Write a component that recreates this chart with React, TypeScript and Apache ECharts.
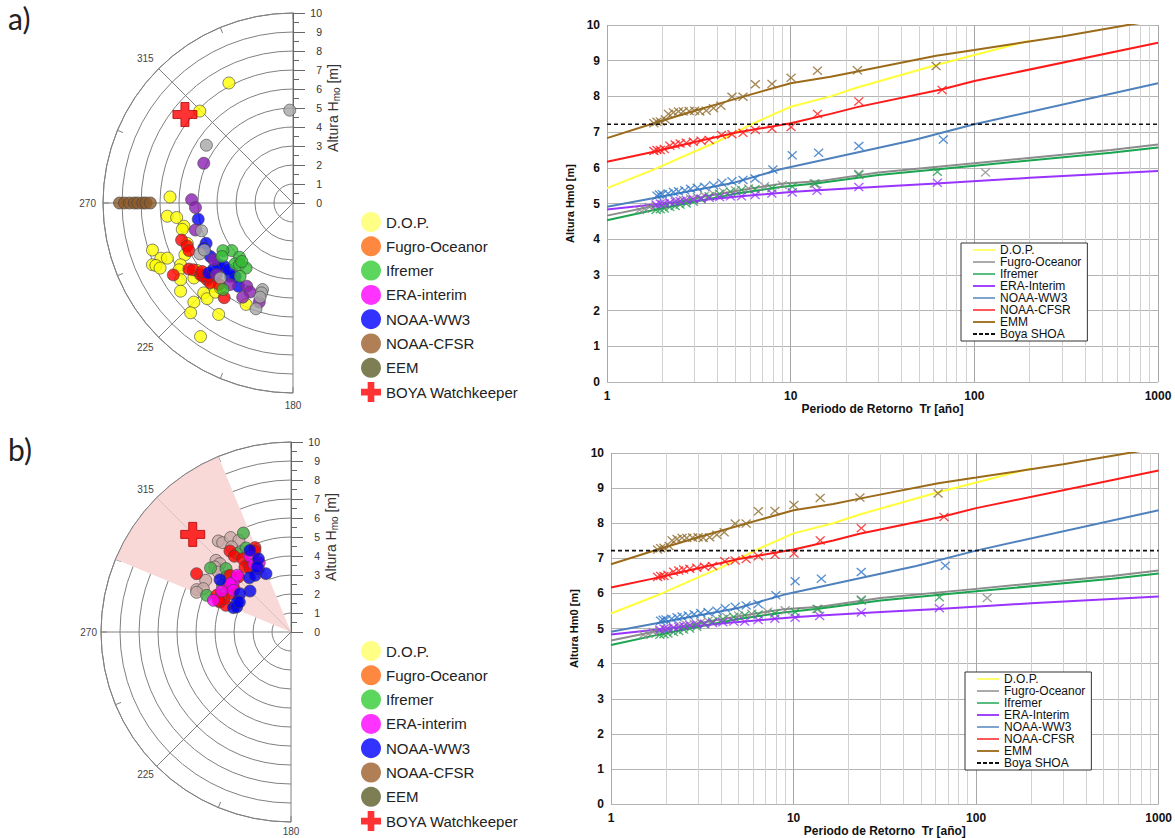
import React, { useEffect, useRef } from "react";
import * as echarts from "echarts";

// ---------- Polar scatter data: [direction (compass deg), Hmo (m)] ----------
const A_DOP = [[331.9,7.16],[314.6,6.89],[272.8,6.48],[264,6.65],[262.9,6.17],[258,5.87],[256.6,5.99],[251.5,7.8],[247.3,7.54],[246.3,7.22],[246.3,8.08],[245.5,7.93],[243.9,7.79],[249.1,5.96],[244.4,6.31],[241.2,6.75],[239.6,6.95],[235.7,7.16],[231.9,7.52],[232.9,6.54],[224.8,6.67],[221.9,6.77],[225,7.38],[223,7.9],[214.7,8.55],[213.7,7.05],[223.6,6.05],[221,6.22],[220.6,5.88],[204.8,5.88],[234.9,6.17]];
const A_RED = [[251.6,6.18],[247.9,6.01],[245.4,6.02],[239,7.35],[237.6,6.49],[236.2,6.32],[232.2,6.16],[230.8,6.1],[228.3,6.06],[226,6.05],[229,5.88],[222.1,5.79],[216,6.16],[233,5.99]];
const A_BLUE = [[260.3,5.06],[245.1,5.04],[243.1,5.27],[237.1,5.18],[230.3,5.09],[227.3,4.92],[220.6,5.08],[218.2,4.92],[213.2,5.24],[230.3,5.77],[230.2,5.43],[224,4.88]];
const A_PURPLE = [[294,5.14],[271.9,5.34],[267.3,5.14],[254.5,5.33],[234.4,5.13],[226.9,5.52],[217.6,5.42],[209.1,5.01],[205.8,5.2],[208.1,5.62],[198.8,5.51]];
const A_GRAY = [[358,4.89],[303.7,5.48],[253.1,5.03],[241.4,5.59],[242.1,5.28],[224.1,5.5],[199.4,4.83],[199.3,5.01],[199.3,5.25],[199.3,5.9]];
const A_GREEN = [[232.1,4.08],[235.8,4.46],[233,4.68],[224.6,4.01],[223.6,4.42],[220.9,4.3],[215.8,4.22],[215.8,4.76],[219,5.86],[221.2,4.09]];
const A_BROWN = [[270,9.13],[270,8.87],[270,8.61],[270,8.35],[270,8.17],[270,7.91],[270,7.74],[270,7.51]];
const A_BOYA = [[309.3,7.35]];

const B_ROSE = [[321.4,6.13],[322.6,5.92],[327.4,5.9],[330.4,5.55],[325.1,5.46],[313.7,5.46],[313.9,5.19],[310.5,5.27],[301.2,5.25],[294.2,5.44],[296.3,5.15],[292.8,5.39],[309.5,4.96],[327.5,4.99]];
const B_GREEN = [[334.3,5.78],[331.8,5.02],[308.5,5.41],[314.3,4.78],[293.5,4.84],[310.5,4.46],[304.3,4.36],[328,4.24],[325.3,5.02],[297.9,4.13]];
const B_RED = [[301.7,5.84],[323,5.34],[323.2,4.98],[326.6,4.62],[336.9,4.83],[336,4.67],[324.7,4.19],[327.5,4.02],[312.9,4.38],[306.7,4.11],[296.3,4.36],[292.9,4.06],[292.3,3.7],[296.5,3.94],[302.9,3.72],[308,3.85],[316.2,4.01],[293.5,4.17]];
const B_MAGENTA = [[331.5,4.53],[331.3,4.06],[335.3,4.0],[332.7,3.75],[310.9,4.02],[308.4,4.1],[300.6,4.24],[292.2,4.41],[305.9,3.74],[316.6,4.11]];
const B_BLUE = [[306.4,4.64],[333.3,4.81],[336,4.22],[322.5,3.6],[327.6,3.53],[336.8,3.34],[315,3.05],[306.9,3.36],[299.2,3.24],[292.9,3.29],[294.7,3.15],[300.1,3.14],[332.6,3.85]];
const B_BOYA = [[314.8,7.29]];

const ANGLE_TICKS_SHOWN = [45, 90, 135, 180];

// ---------- Return period curves: [T (years), Hm0 (m)] ----------
const FIT_DOP = [[1,5.43],[1.78,5.94],[3.2,6.52],[3.97,6.73],[6.3,7.25],[10,7.71],[16.5,8.0],[23,8.25],[62,8.88],[100,9.16],[202,9.57]];
const FIT_FUGRO = [[1,4.66],[1.8,4.93],[3,5.15],[5,5.35],[8.8,5.55],[14,5.62],[30,5.87],[100,6.13],[555,6.5],[1000,6.65]];
const FIT_IFREMER = [[1,4.53],[1.8,4.82],[3,5.05],[5,5.27],[8.8,5.46],[14,5.57],[30,5.8],[100,6.06],[555,6.42],[1000,6.57]];
const FIT_ERA = [[1,4.83],[1.8,4.97],[3,5.08],[5,5.19],[10,5.32],[14,5.37],[30,5.47],[62,5.56],[200,5.72],[1000,5.91]];
const FIT_WW3 = [[1,4.91],[1.87,5.17],[4.9,5.58],[8.8,5.96],[23,6.43],[47,6.78],[100,7.22],[1000,8.37]];
const FIT_CFSR = [[1,6.17],[1.8,6.45],[3,6.72],[5,6.98],[10,7.25],[16.5,7.51],[23,7.7],[67,8.2],[100,8.43],[1000,9.5]];
const FIT_EMM = [[1,6.83],[1.8,7.25],[3,7.6],[5,7.93],[10,8.37],[16.5,8.55],[23,8.7],[62,9.14],[100,9.3],[300,9.68],[684,10.0],[1000,10.14]];
const BOYA_SHOA = [[1,7.22],[1000,7.22]];

const OBS_FUGRO = [[1.5,4.82],[1.6,4.85],[1.7,4.9],[1.85,4.93],[2.0,4.98],[2.2,5.02],[2.4,5.07],[2.6,5.1],[2.85,5.14],[3.1,5.18],[3.4,5.22],[3.8,5.27],[4.3,5.33],[5.0,5.37],[5.9,5.42],[7.2,5.48],[9.0,5.52],[13.4,5.56],[23.5,5.83],[115,5.87]];
const OBS_IFREMER = [[1.85,4.82],[1.95,4.84],[2.05,4.86],[2.2,4.9],[2.35,4.93],[2.5,4.97],[2.7,5.0],[2.95,5.05],[3.25,5.12],[3.6,5.2],[4.1,5.27],[4.7,5.33],[5.4,5.38],[6.4,5.4],[7.9,5.43],[10.2,5.47],[13.6,5.56],[23.5,5.8],[62.9,5.89]];
const OBS_ERA = [[1.85,4.97],[1.95,5.0],[2.05,5.0],[2.2,5.03],[2.35,5.05],[2.5,5.07],[2.7,5.1],[2.95,5.12],[3.25,5.14],[3.6,5.16],[4.1,5.18],[4.7,5.2],[5.4,5.2],[6.4,5.24],[7.9,5.28],[10.2,5.31],[13.9,5.36],[23.5,5.46],[62.9,5.58]];
const OBS_WW3 = [[1.87,5.22],[1.93,5.25],[2.0,5.26],[2.15,5.28],[2.3,5.32],[2.45,5.34],[2.65,5.37],[2.85,5.41],[3.1,5.44],[3.4,5.47],[3.8,5.51],[4.22,5.58],[4.79,5.62],[5.5,5.66],[6.4,5.7],[8.0,5.95],[10.2,6.35],[14.2,6.42],[23.5,6.61],[67.8,6.79]];
const OBS_CFSR = [[1.8,6.47],[1.87,6.5],[1.95,6.5],[2.05,6.53],[2.2,6.62],[2.35,6.65],[2.5,6.68],[2.7,6.7],[2.95,6.73],[3.25,6.76],[3.6,6.78],[4.2,6.92],[4.79,6.94],[5.5,6.98],[6.42,7.06],[7.91,7.1],[10.05,7.14],[14.0,7.51],[23.5,7.86],[66.7,8.18]];
const OBS_EMM = [[1.8,7.25],[1.87,7.29],[1.95,7.3],[2.08,7.35],[2.16,7.51],[2.3,7.55],[2.45,7.58],[2.6,7.58],[2.8,7.59],[3.0,7.6],[3.2,7.58],[3.47,7.6],[3.8,7.67],[4.17,7.74],[4.79,7.99],[5.5,7.99],[6.42,8.34],[7.91,8.35],[10.05,8.52],[14.0,8.72],[23.1,8.73],[61.9,8.85]];

const POLAR_LEGEND = ["D.O.P.", "Fugro-Oceanor", "Ifremer", "ERA-interim", "NOAA-WW3", "NOAA-CFSR", "EEM", "BOYA Watchkeeper"];
const POLAR_LEGEND_COLORS = ["#ffff66", "#ff6a10", "#33cc33", "#ff00ff", "#0000ff", "#9c5f2c", "#5e5e2a", "#ff0000"];
const LINE_LEGEND = ["D.O.P.", "Fugro-Oceanor", "Ifremer", "ERA-Interim", "NOAA-WW3", "NOAA-CFSR", "EMM", "Boya SHOA"];

const X_PATH = "path://M0,1L1,0L5,4L9,0L10,1L6,5L10,9L9,10L5,6L1,10L0,9L4,5Z";
const PLUS_PATH = "path://M8,0h8v8h8v8h-8v8h-8v-8h-8v-8h8z";
const LINE_ICON = "path://M0,0h24v2h-24z";
const DASH_ICON = "path://M0,0h4v2h-4zM6,0h4v2h-4zM12,0h4v2h-4zM18,0h4v2h-4z";
const CLEAR = "rgba(0,0,0,0)";
const PINK = "#f9d8d8";
const AXIS_GRAY = "#808080";
const FONT = "'Liberation Sans', Arial, sans-serif";

const toPolar = (pts: number[][]) => pts.map(([dir, h]) => [h, 360 - dir]);

function polarAxes(idx: number, shaded: boolean, angleLabelMargin: number) {
  const angleAxis = {
    polarIndex: idx,
    type: "value",
    min: 0,
    max: 180,
    interval: 22.5,
    startAngle: 90,
    endAngle: 270,
    clockwise: false,
    axisLine: { show: true, lineStyle: { color: AXIS_GRAY, width: 1 } },
    axisTick: { show: true, inside: true, length: 6, lineStyle: { color: AXIS_GRAY } },
    axisLabel: {
      color: "#444",
      fontSize: 10,
      margin: angleLabelMargin,
      fontFamily: FONT,
      formatter: (v: number) => (ANGLE_TICKS_SHOWN.includes(v) ? String(360 - v) : ""),
    },
    splitLine: { show: true, lineStyle: { color: [AXIS_GRAY, CLEAR], width: 1 } },
    splitArea: shaded
      ? { show: true, areaStyle: { color: [CLEAR, PINK, PINK, CLEAR, CLEAR, CLEAR, CLEAR, CLEAR, CLEAR] } }
      : { show: false },
  };
  const radiusAxis = {
    polarIndex: idx,
    type: "value",
    min: 0,
    max: 10,
    interval: 1,
    axisLine: { show: true, lineStyle: { color: "#666", width: 1 } },
    axisTick: { show: true, length: -12, lineStyle: { color: "#666" } },
    minorTick: { show: true, splitNumber: 2, length: -6, lineStyle: { color: "#666" } },
    axisLabel: { margin: -29, fontSize: 10.5, color: "#333", fontFamily: FONT },
    splitLine: { show: true, lineStyle: { color: AXIS_GRAY, width: 1 } },
    name: "{a|Altura H}{s|mo}{a| [m]}",
    nameLocation: "middle",
    nameGap: 30,
    nameTextStyle: {
      rich: {
        a: { fontSize: 14, color: "#333", fontFamily: FONT, lineHeight: 18 },
        s: { fontSize: 10, color: "#333", fontFamily: FONT, lineHeight: 10, verticalAlign: "bottom" },
      },
    },
  };
  return { angleAxis, radiusAxis };
}

function dot(idx: number, name: string, pts: number[][], color: string) {
  return {
    type: "scatter",
    name,
    coordinateSystem: "polar",
    polarIndex: idx,
    data: toPolar(pts),
    symbol: "circle",
    symbolSize: 12,
    itemStyle: { color, borderColor: "#444", borderWidth: 0.8 },
    z: 3,
  };
}

function boya(idx: number, pts: number[][]) {
  return {
    type: "scatter",
    name: "BOYA Watchkeeper",
    coordinateSystem: "polar",
    polarIndex: idx,
    data: toPolar(pts),
    symbol: PLUS_PATH,
    symbolSize: 24,
    itemStyle: { color: "#ff0000", borderColor: "#b00000", borderWidth: 1 },
    z: 4,
  };
}

function polarLegend(top: number) {
  return {
    orient: "vertical",
    left: 361,
    top,
    padding: 0,
    itemWidth: 20,
    itemHeight: 20,
    itemGap: 4.3,
    selectedMode: false,
    textStyle: { fontSize: 15, color: "#222", fontFamily: FONT },
    data: POLAR_LEGEND.map((n, i) => ({
      name: n,
      icon: i === 7 ? PLUS_PATH : "circle",
      itemStyle: { color: POLAR_LEGEND_COLORS[i], borderWidth: 0 },
    })),
  };
}

const FITS = [
  { name: "D.O.P.", data: FIT_DOP, color: "#ffff3a" },
  { name: "Fugro-Oceanor", data: FIT_FUGRO, color: "#8c8c8c" },
  { name: "Ifremer", data: FIT_IFREMER, color: "#1aa550" },
  { name: "ERA-Interim", data: FIT_ERA, color: "#9933ff" },
  { name: "NOAA-WW3", data: FIT_WW3, color: "#4f81bd" },
  { name: "NOAA-CFSR", data: FIT_CFSR, color: "#ff1a1a" },
  { name: "EMM", data: FIT_EMM, color: "#9c6b1a" },
];
const OBS = [
  { name: "Fugro-Oceanor", data: OBS_FUGRO, color: "#8c8c8c" },
  { name: "Ifremer", data: OBS_IFREMER, color: "#23a050" },
  { name: "ERA-Interim", data: OBS_ERA, color: "#9933ff" },
  { name: "NOAA-WW3", data: OBS_WW3, color: "#2e75c8" },
  { name: "NOAA-CFSR", data: OBS_CFSR, color: "#ff1a1a" },
  { name: "EMM", data: OBS_EMM, color: "#8f6a2a" },
];

function lineChart(gi: number, left: number, top: number, width: number, height: number, legendLeft: number, legendTop: number) {
  const grid = { left, top, width, height, show: false };
  const xAxis = {
    gridIndex: gi,
    type: "log",
    logBase: 10,
    min: 1,
    max: 1000,
    axisLine: { show: false },
    axisTick: { show: false },
    axisLabel: {
      color: "#111",
      fontWeight: "bold",
      fontSize: 12,
      margin: 8,
      fontFamily: FONT,
      formatter: (v: number) => String(Math.round(v)),
    },
    splitLine: { show: true, lineStyle: { color: "#a8a8a8", width: 1 } },
    minorTick: { show: false, splitNumber: 9 },
    minorSplitLine: { show: true, lineStyle: { color: "#d2d2d2", width: 1 } },
    name: "Periodo de Retorno  Tr [año]",
    nameLocation: "middle",
    nameGap: 9,
    nameTextStyle: { fontWeight: "bold", fontSize: 12, color: "#111", fontFamily: FONT },
  };
  const yAxis = {
    gridIndex: gi,
    type: "value",
    min: 0,
    max: 10,
    interval: 1,
    axisLine: { show: false },
    axisTick: { show: false },
    axisLabel: { color: "#111", fontWeight: "bold", fontSize: 12, margin: 7, fontFamily: FONT },
    splitLine: { show: true, lineStyle: { color: "#b4b4b4", width: 1 } },
    name: "Altura Hm0 [m]",
    nameLocation: "middle",
    nameGap: 32,
    nameTextStyle: { fontWeight: "bold", fontSize: 11, color: "#111", fontFamily: FONT },
  };
  const series: any[] = [];
  FITS.forEach((f) =>
    series.push({
      type: "line",
      name: f.name,
      xAxisIndex: gi,
      yAxisIndex: gi,
      data: f.data,
      showSymbol: false,
      symbol: "none",
      lineStyle: { color: f.color, width: 2 },
      itemStyle: { color: f.color },
      z: 3,
    })
  );
  OBS.forEach((o) =>
    series.push({
      type: "scatter",
      name: o.name,
      xAxisIndex: gi,
      yAxisIndex: gi,
      data: o.data,
      symbol: X_PATH,
      symbolSize: [10, 9],
      itemStyle: { color: o.color },
      z: 4,
    })
  );
  series.push({
    type: "line",
    name: "Boya SHOA",
    xAxisIndex: gi,
    yAxisIndex: gi,
    data: BOYA_SHOA,
    showSymbol: false,
    symbol: "none",
    lineStyle: { color: "#111", width: 1.6, type: [4, 3] },
    itemStyle: { color: "#111" },
    z: 5,
  });
  const legend = {
    orient: "vertical",
    left: legendLeft,
    top: legendTop,
    itemWidth: 22,
    itemHeight: 15,
    itemGap: 0,
    padding: [1, 6, 1, 12],
    borderColor: "#333",
    borderWidth: 1,
    backgroundColor: "#fff",
    selectedMode: false,
    textStyle: { fontSize: 12, color: "#111", fontFamily: FONT },
    data: LINE_LEGEND.map((n, i) => ({
      name: n,
      icon: i === 7 ? DASH_ICON : LINE_ICON,
      itemStyle: { color: i === 7 ? "#111" : FITS[i].color, borderWidth: 0 },
    })),
  };
  return { grid, xAxis, yAxis, series, legend };
}

export default function App() {
  const ref = useRef<HTMLDivElement>(null);
  useEffect(() => {
    if (!ref.current) return;
    const chart = echarts.init(ref.current, null, { renderer: "svg" });
    const pA = polarAxes(0, false, 7);
    const pB = polarAxes(1, true, 4);
    const lA = lineChart(0, 607, 25, 551, 357, 961, 243);
    const lB = lineChart(1, 611, 453, 550, 358, 965, 672);
    const option: any = {
      animation: false,
      backgroundColor: "#fff",
      textStyle: { fontFamily: FONT },
      polar: [
        { center: [293, 203], radius: 190 },
        { center: [291, 632], radius: 190 },
      ],
      angleAxis: [pA.angleAxis, pB.angleAxis],
      radiusAxis: [pA.radiusAxis, pB.radiusAxis],
      grid: [lA.grid, lB.grid],
      xAxis: [lA.xAxis, lB.xAxis],
      yAxis: [lA.yAxis, lB.yAxis],
      legend: [polarLegend(212), polarLegend(641), lA.legend, lB.legend],
      series: [
        dot(0, "D.O.P.", A_DOP, "#ffff00"),
        dot(0, "NOAA-CFSR", A_RED, "#ff0000"),
        dot(0, "NOAA-WW3", A_BLUE, "#0000ff"),
        dot(0, "ERA-interim", A_PURPLE, "#8a1fb0"),
        dot(0, "Fugro-Oceanor", A_GRAY, "#a6a6a6"),
        dot(0, "Ifremer", A_GREEN, "#33bb33"),
        dot(0, "EEM", A_BROWN, "#8b5a2b"),
        boya(0, A_BOYA),
        dot(1, "Fugro-Oceanor", B_ROSE, "#c8aaa6"),
        dot(1, "Ifremer", B_GREEN, "#3cb043"),
        dot(1, "NOAA-CFSR", B_RED, "#ff0000"),
        dot(1, "ERA-interim", B_MAGENTA, "#ff00ff"),
        dot(1, "NOAA-WW3", B_BLUE, "#0000ee"),
        boya(1, B_BOYA),
        ...lA.series,
        ...lB.series,
      ],
      graphic: [
        { type: "text", left: 8, top: 3, style: { text: "a)", fontSize: 30, fontFamily: "Lato, 'DejaVu Sans', sans-serif", fill: "#222" } },
        { type: "text", left: 8, top: 434, style: { text: "b)", fontSize: 30, fontFamily: "Lato, 'DejaVu Sans', sans-serif", fill: "#222" } },
      ],
    };
    chart.setOption(option);
    return () => chart.dispose();
  }, []);
  return (
    <div
      ref={ref}
      style={{ position: "absolute", left: 0, top: 0, width: 1175, height: 838, background: "#fff" }}
    />
  );
}
